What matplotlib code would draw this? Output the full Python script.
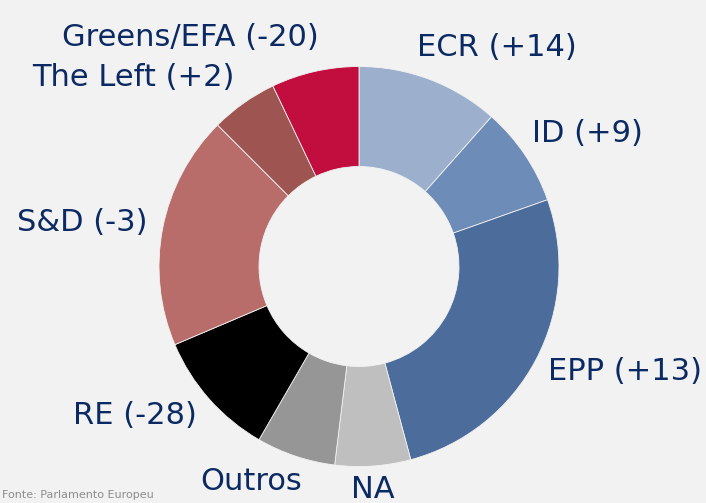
import matplotlib
matplotlib.use("Agg")
import matplotlib.pyplot as plt

parties = ["ECR", "ID", "EPP", "NA", "Outros", "RE", "S&D", "The Left", "Greens/EFA"]
seats = [83, 58, 189, 44, 46, 74, 136, 39, 51]
changes = ["+14", "+9", "+13", None, None, "-28", "-3", "+2", "-20"]
colors = ["#9CB0CE", "#6D8CB8", "#4C6C9B", "#BFBFBF", "#969696",
          "#000000", "#B86D6B", "#9E5552", "#C20E3E"]

# label centres in pixel coords (top-left origin)
label_pos = [(497, 47), (587, 133), (625, 372), (373, 490), (251, 482),
             (135, 416), (82, 222), (133, 77), (190, 37)]

W, H = 706, 503
bg = "#F2F2F2"
navy = "#0B2A63"
font = ["DejaVu Sans"]

fig = plt.figure(figsize=(W / 100, H / 100), dpi=100, facecolor=bg)
ax = fig.add_axes([0, 0, 1, 1])
ax.set_facecolor(bg)

ax.pie(seats, colors=colors, center=(359, H - 266.5), radius=200,
       startangle=90, counterclock=False,
       wedgeprops=dict(width=100, edgecolor=bg, linewidth=0.6))

for name, ch, (x, y) in zip(parties, changes, label_pos):
    txt = name if ch is None else f"{name} ({ch})"
    ax.text(x, H - y, txt, ha="center", va="center", fontsize=22,
            color=navy, family=font)

ax.text(2, 3, "Fonte: Parlamento Europeu", ha="left", va="bottom",
        fontsize=8, color="#8C8C8C", family=font)

ax.set_xlim(0, W)
ax.set_ylim(0, H)
ax.set_aspect("equal")
ax.axis("off")

fig.savefig("out.png", dpi=100, facecolor=bg)
